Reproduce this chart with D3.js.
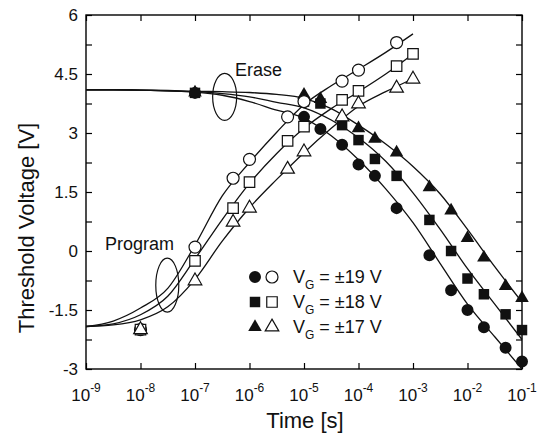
<!DOCTYPE html>
<html>
<head>
<meta charset="utf-8">
<script src="https://cdn.jsdelivr.net/npm/d3@7/dist/d3.min.js"></script>
<style>
  html, body { margin: 0; padding: 0; background: #fff; }
  svg { display: block; font-family: "Liberation Sans", Arial, Helvetica, sans-serif; }
</style>
</head>
<body>
<svg id="chart" width="548" height="436"></svg>
<script>
// Axis ticks
const xDecades = [1e-9, 1e-8, 1e-7, 1e-6, 1e-5, 1e-4, 1e-3, 1e-2, 1e-1];
const xExponents = ["-9", "-8", "-7", "-6", "-5", "-4", "-3", "-2", "-1"];
const yTicks = [-3, -2.25, -1.5, -0.75, 0, 0.75, 1.5, 2.25, 3, 3.75, 4.5, 5.25, 6];
const yLabels = [-3, -1.5, 0, 1.5, 3, 4.5, 6];

// Program (open markers): times [s] and threshold voltage [V]
const progTimes = [1e-8, 1e-7, 5e-7, 1e-6, 5e-6, 1e-5, 5e-5, 1e-4, 5e-4, 1e-3];
const prog19 = [-2.0, 0.1, 1.85, 2.33, 3.41, 3.80, 4.32, 4.60, 5.30, null];
const prog18 = [-2.0, -0.25, 1.09, 1.75, 2.80, 3.16, 3.84, 4.07, 4.70, 5.01];
const prog17 = [-2.0, -0.76, 0.73, 1.09, 2.08, 2.52, 3.41, 3.74, 4.14, 4.37];

// Erase (filled markers)
const eraseTimes = [1e-7, 1e-5, 2e-5, 5e-5, 1e-4, 2e-4, 5e-4, 2e-3, 5e-3, 1e-2, 2e-2, 5e-2, 1e-1];
const erase19 = [4.02, 3.41, 3.10, 2.70, 2.20, 1.91, 1.09, -0.11, -1.00, -1.50, -1.94, -2.46, -2.81];
const erase18 = [4.02, 3.80, 3.75, 3.20, 2.82, 2.34, 1.91, 0.79, 0.00, -0.70, -1.10, -1.61, -2.01];
const erase17 = [4.03, 3.97, 3.86, 3.42, 3.12, 2.85, 2.50, 1.62, 1.03, 0.33, -0.17, -0.89, -1.20];

// Fitted curves, sampled every half decade
const fitTimes = [1e-9, 3.16e-9, 1e-8, 3.16e-8, 1e-7, 3.16e-7, 1e-6, 3.16e-6, 1e-5, 3.16e-5,
                  1e-4, 3.16e-4, 1e-3, 3.16e-3, 1e-2, 3.16e-2, 1e-1];
const fitProg19 = [-1.92, -1.78, -1.45, -0.95, 0.15, 1.40, 2.25, 3.02, 3.72, 4.20, 4.62, 5.05, 5.52];
const fitProg18 = [-1.92, -1.85, -1.62, -1.15, -0.20, 0.80, 1.72, 2.48, 3.12, 3.62, 4.05, 4.50, 5.01];
const fitProg17 = [-1.92, -1.88, -1.75, -1.42, -0.72, 0.25, 1.10, 1.82, 2.50, 3.12, 3.68, 4.05, 4.38];
const fitErase19 = [4.10, 4.10, 4.09, 4.07, 4.04, 3.96, 3.80, 3.58, 3.38, 2.93, 2.32, 1.58, 0.72, -0.32, -1.35, -2.18, -3.00];
const fitErase18 = [4.10, 4.10, 4.09, 4.07, 4.05, 4.00, 3.92, 3.78, 3.64, 3.33, 2.88, 2.28, 1.48, 0.55, -0.45, -1.35, -2.25];
const fitErase17 = [4.10, 4.10, 4.09, 4.08, 4.06, 4.05, 4.03, 3.98, 3.88, 3.62, 3.20, 2.72, 2.15, 1.45, 0.55, -0.40, -1.30];

// Legend entries
const legendLabels = ["19", "18", "17"];
const markerShapes = [d3.symbolCircle, d3.symbolSquare, d3.symbolTriangle];
const markerSizes = [113, 110, 80];

const svg = d3.select("#chart");
const margin = { left: 86, top: 15, right: 26, bottom: 67 };
const W = 548, H = 436;

const x = d3.scaleLog().domain([1e-9, 1e-1]).range([margin.left, W - margin.right]);
const y = d3.scaleLinear().domain([-3, 6]).range([H - margin.bottom, margin.top]);

// Axes with inward ticks on all four sides
svg.append("g").attr("transform", `translate(0,${y(-3)})`)
  .call(d3.axisBottom(x).tickValues(xDecades).tickSize(-6).tickFormat(""))
  .call(g => g.select(".domain").remove());
svg.append("g").attr("transform", `translate(0,${y(6)})`)
  .call(d3.axisTop(x).tickValues(xDecades).tickSize(-6).tickFormat(""))
  .call(g => g.select(".domain").remove());
svg.append("g").attr("transform", `translate(${x(1e-9)},0)`)
  .call(d3.axisLeft(y).tickValues(yTicks).tickSize(-6).tickFormat(""))
  .call(g => g.select(".domain").remove());
svg.append("g").attr("transform", `translate(${x(1e-1)},0)`)
  .call(d3.axisRight(y).tickValues(yTicks).tickSize(-6).tickFormat(""))
  .call(g => g.select(".domain").remove());
svg.selectAll(".tick line").attr("stroke", "#000").attr("stroke-width", 1.2);

svg.append("rect")
  .attr("x", x(1e-9)).attr("y", y(6))
  .attr("width", x(1e-1) - x(1e-9)).attr("height", y(-3) - y(6))
  .attr("fill", "none").attr("stroke", "#000").attr("stroke-width", 1.4);

// Tick labels
const xl = svg.append("g").attr("font-size", 17).attr("fill", "#111");
xDecades.forEach((t, i) => {
  const txt = xl.append("text").attr("x", x(t)).attr("y", 401).attr("text-anchor", "middle");
  txt.append("tspan").text("10");
  txt.append("tspan").attr("dy", -9).attr("font-size", 12).text(xExponents[i]);
});
svg.append("g").attr("font-size", 17).attr("fill", "#111")
  .selectAll("text").data(yLabels).join("text")
  .attr("x", 78).attr("y", d => y(d)).attr("dy", "0.36em")
  .attr("text-anchor", "end").text(d => String(d));

// Axis titles
svg.append("text").attr("x", 305).attr("y", 428).attr("text-anchor", "middle")
  .attr("font-size", 22).attr("fill", "#111").text("Time [s]");
svg.append("text").attr("transform", "translate(34,228) rotate(-90)")
  .attr("text-anchor", "middle").attr("font-size", 22).attr("fill", "#111")
  .text("Threshold Voltage [V]");

// Fitted curves
const line = d3.line()
  .x(d => x(d[0])).y(d => y(d[1]))
  .curve(d3.curveMonotoneX);
const curves = [fitProg19, fitProg18, fitProg17, fitErase19, fitErase18, fitErase17];
const curveG = svg.append("g").attr("fill", "none").attr("stroke", "#111").attr("stroke-width", 1.3);
curves.forEach(vals => {
  curveG.append("path").attr("d", line(vals.map((v, i) => [fitTimes[i], v])));
});

// Markers
const filledSeries = [erase19, erase18, erase17];
const openSeries = [prog19, prog18, prog17];
const markG = svg.append("g");
filledSeries.forEach((vals, k) => {
  const sym = d3.symbol().type(markerShapes[k]).size(markerSizes[k]);
  markG.append("g").selectAll("path")
    .data(vals.map((v, i) => [eraseTimes[i], v]).filter(d => d[1] !== null))
    .join("path")
    .attr("transform", d => `translate(${x(d[0])},${y(d[1])})`)
    .attr("d", sym()).attr("fill", "#111");
});
openSeries.forEach((vals, k) => {
  const sym = d3.symbol().type(markerShapes[k]).size(markerSizes[k]);
  markG.append("g").selectAll("path")
    .data(vals.map((v, i) => [progTimes[i], v]).filter(d => d[1] !== null))
    .join("path")
    .attr("transform", d => `translate(${x(d[0])},${y(d[1])})`)
    .attr("d", sym()).attr("fill", "#fff").attr("stroke", "#111").attr("stroke-width", 1.2);
});

// Annotation ellipses and labels
svg.append("ellipse").attr("cx", x(3.5e-7)).attr("cy", y(3.92)).attr("rx", 12).attr("ry", 23.5)
  .attr("fill", "none").attr("stroke", "#111").attr("stroke-width", 1.2);
svg.append("ellipse").attr("cx", x(3.1e-8)).attr("cy", y(-0.87)).attr("rx", 11.5).attr("ry", 27)
  .attr("fill", "none").attr("stroke", "#111").attr("stroke-width", 1.2);
svg.append("text").attr("x", 235).attr("y", 76).attr("font-size", 18).attr("fill", "#111").text("Erase");
svg.append("text").attr("x", 105).attr("y", 250).attr("font-size", 18).attr("fill", "#111").text("Program");

// Legend
const leg = svg.append("g");
legendLabels.forEach((lab, k) => {
  const cy = 277 + k * 25;
  const sym = d3.symbol().type(markerShapes[k]).size(markerSizes[k]);
  leg.append("path").attr("transform", `translate(255,${cy})`).attr("d", sym()).attr("fill", "#111");
  leg.append("path").attr("transform", `translate(272,${cy})`).attr("d", sym())
    .attr("fill", "#fff").attr("stroke", "#111").attr("stroke-width", 1.2);
  const t = leg.append("text").attr("x", 293).attr("y", cy + 6).attr("font-size", 18).attr("fill", "#111");
  t.append("tspan").text("V");
  t.append("tspan").attr("dy", 6).attr("font-size", 12).text("G");
  t.append("tspan").attr("dy", -6).text(` = \u00b1${lab} V`);
});
</script>
</body>
</html>
